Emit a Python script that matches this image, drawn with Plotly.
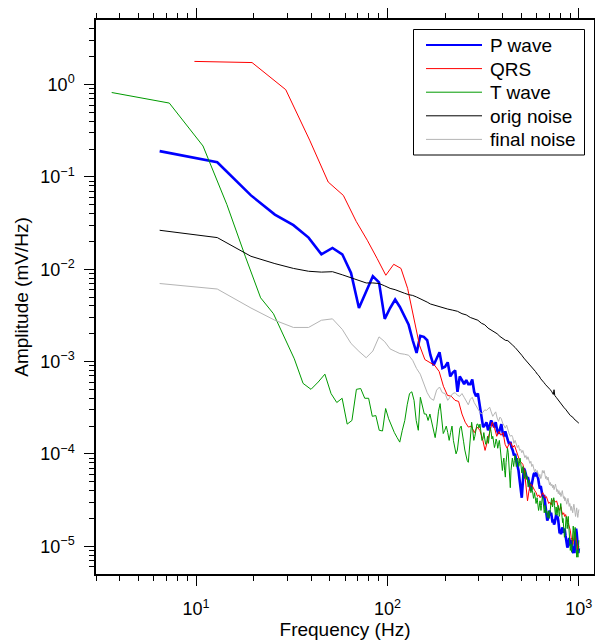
import numpy as np
import plotly.graph_objects as go

# ---- frequency bins (FFT bins, fs = 2000 Hz) ----
df_p = 2000 / 310      # P wave / noise window
df_qrs = 2000 / 204    # QRS window
df_t = 2000 / 552      # T wave window
freq_p = df_p * np.arange(1, 156)
freq_qrs = df_qrs * np.arange(1, 103)
freq_t = df_t * np.arange(1, 277)

# ---- amplitudes (mV/Hz) ----
p_wave = [
    0.19, 0.144, 0.063, 0.039, 0.030, 0.022, 0.0145, 0.017, 0.0145, 0.0091,
    0.0038, 0.0058, 0.0084, 0.0072, 0.0029, 0.0038, 0.0047, 0.0039, 0.0031, 0.0025,
    0.0017, 0.00124, 0.0019, 0.00185, 0.0017, 0.00117, 9.1e-4, 1.1e-3, 1.26e-3, 8.5e-4,
    8.8e-4, 9.8e-4, 6.9e-4, 7.6e-4, 8.0e-4, 4.7e-4, 6.9e-4, 6.3e-4, 5.7e-4, 6.3e-4,
    5.7e-4, 5.7e-4, 6.4e-4, 4.7e-4, 4.2e-4, 4.5e-4, 3.35e-4, 2.5e-4, 1.95e-4, 2.04e-4,
    2.2e-4, 1.8e-4, 2.0e-4, 2.3e-4, 2.1e-4, 1.95e-4, 2.2e-4, 1.8e-4, 1.65e-4, 1.9e-4,
    2.1e-4, 1.7e-4, 1.55e-4, 1.75e-4, 1.52e-4, 1.4e-4, 1.28e-4, 1.35e-4, 1.17e-4, 1.09e-4,
    9.6e-5, 1.0e-4, 8.5e-5, 7.7e-5, 6.6e-5, 5.2e-5, 3.8e-5, 3.35e-5, 4.9e-5, 7.0e-5,
    6.6e-5, 6.0e-5, 5.4e-5, 5.6e-5, 4.9e-5, 4.4e-5, 4.0e-5, 4.7e-5, 5.4e-5, 6.0e-5,
    6.2e-5, 5.7e-5, 6.3e-5, 5.9e-5, 5.4e-5, 4.7e-5, 4.2e-5, 4.5e-5, 3.8e-5, 3.55e-5,
    3.35e-5, 3.6e-5, 3.1e-5, 2.6e-5, 2.16e-5, 1.9e-5, 2.0e-5, 2.3e-5, 2.44e-5, 2.16e-5,
    2.3e-5, 2.05e-5, 1.8e-5, 1.95e-5, 1.72e-5, 1.8e-5, 2.1e-5, 2.2e-5, 2.0e-5, 2.1e-5,
    1.9e-5, 1.6e-5, 1.38e-5, 1.49e-5, 1.35e-5, 1.45e-5, 1.6e-5, 1.49e-5, 1.4e-5, 1.55e-5,
    1.49e-5, 1.31e-5, 1.16e-5, 1.05e-5, 9.7e-6, 1.0e-5, 1.16e-5, 1.23e-5, 1.1e-5, 1.02e-5,
    1.07e-5, 1.16e-5, 1.02e-5, 9.0e-6, 8.4e-6, 9.5e-6, 8.4e-6, 1.0e-5, 1.31e-5, 1.55e-5,
    1.4e-5, 1.1e-5, 9.0e-6, 8.4e-6, 9.5e-6,
]

qrs = [
    1.78, 1.73, 0.88, 0.25, 0.088, 0.063, 0.033, 0.0206, 0.0131, 0.0086,
    0.0113, 0.0102, 0.0062, 0.0029, 0.0015, 1.05e-3, 9.8e-4, 9.1e-4, 7.8e-4, 5.4e-4,
    4.3e-4, 4.2e-4, 3.8e-4, 3.7e-4, 2.7e-4, 2.2e-4, 1.95e-4, 2.0e-4, 1.7e-4, 1.95e-4,
    1.8e-4, 1.46e-4, 1.09e-4, 1.4e-4, 1.8e-4, 2.2e-4, 1.9e-4, 1.55e-4, 1.75e-4, 1.59e-4,
    1.7e-4, 1.27e-4, 1.15e-4, 1.27e-4, 1.32e-4, 1.17e-4, 1.24e-4, 1.09e-4, 9.6e-5, 8.5e-5,
    8.1e-5, 7.7e-5, 6.6e-5, 4.6e-5, 3.1e-5, 4.0e-5, 4.7e-5, 4.6e-5, 4.2e-5, 4.0e-5,
    3.8e-5, 3.45e-5, 3.6e-5, 3.35e-5, 3.55e-5, 3.8e-5, 3.6e-5, 3.35e-5, 3.45e-5, 3.1e-5,
    2.9e-5, 3.0e-5, 2.8e-5, 3.05e-5, 3.2e-5, 3.1e-5, 3.0e-5, 3.1e-5, 2.77e-5, 2.6e-5,
    2.44e-5, 2.7e-5, 2.4e-5, 2.2e-5, 2.3e-5, 2.1e-5, 2.2e-5, 2.05e-5, 1.85e-5, 1.72e-5,
    1.6e-5, 1.49e-5, 1.25e-5, 1.13e-5, 1.05e-5, 1.23e-5, 1.4e-5, 1.28e-5, 1.1e-5, 1.0e-5,
    9.2e-6, 1.0e-5,
]

t_wave = [
    0.82, 0.63, 0.216, 0.050, 0.0136, 0.0049, 0.0033, 0.0018, 0.00107, 5.8e-4,
    5.0e-4, 6.0e-4, 7.3e-4, 4.5e-4, 3.6e-4, 4.0e-4, 2.1e-4, 2.3e-4, 5.0e-4, 5.1e-4,
    4.0e-4, 4.0e-4, 2.55e-4, 2.6e-4, 1.8e-4, 1.77e-4, 3.1e-4, 2.4e-4, 2.0e-4, 1.7e-4,
    1.5e-4, 1.34e-4, 1.8e-4, 2.3e-4, 3.4e-4, 4.5e-4, 4.7e-4, 3.8e-4, 2.3e-4, 1.8e-4,
    4.1e-4, 3.4e-4, 2.7e-4, 2.7e-4, 2.3e-4, 2.7e-4, 2.2e-4, 1.8e-4, 1.5e-4, 2.0e-4,
    2.9e-4, 3.5e-4, 2.3e-4, 1.66e-4, 1.8e-4, 2.0e-4, 1.7e-4, 1.4e-4, 1.7e-4, 2.0e-4,
    1.4e-4, 1.2e-4, 1.0e-4, 1.1e-4, 1.4e-4, 1.9e-4, 2.0e-4, 1.7e-4, 1.35e-4, 1.1e-4,
    9.6e-5, 8.5e-5, 8.1e-5, 1.24e-4, 1.9e-4, 2.2e-4, 1.8e-4, 1.4e-4, 1.55e-4, 1.9e-4,
    2.1e-4, 2.1e-4, 1.9e-4, 2.1e-4, 1.65e-4, 1.4e-4, 1.45e-4, 1.7e-4, 1.45e-4, 1.27e-4,
    1.32e-4, 1.55e-4, 1.3e-4, 1.6e-4, 1.95e-4, 1.75e-4, 1.45e-4, 1.55e-4, 1.32e-4, 1.17e-4,
    1.27e-4, 1.45e-4, 1.35e-4, 1.15e-4, 1.27e-4, 1.4e-4, 1.2e-4, 9.6e-5, 7.5e-5, 6.6e-5,
    8.1e-5, 9.0e-5, 6.6e-5, 5.6e-5, 8.1e-5, 1.03e-4, 1.15e-4, 1.03e-4, 6.6e-5, 4.6e-5,
    4.3e-5, 6.6e-5, 8.5e-5, 9.0e-5, 8.1e-5, 7.3e-5, 8.5e-5, 9.6e-5, 9.0e-5, 7.3e-5,
    8.1e-5, 9.0e-5, 8.5e-5, 7.3e-5, 7.9e-5, 9.0e-5, 8.1e-5, 7.0e-5, 6.2e-5, 7.0e-5,
    7.3e-5, 6.2e-5, 5.4e-5, 5.7e-5, 6.6e-5, 6.0e-5, 5.3e-5, 5.7e-5, 5.2e-5, 4.4e-5,
    4.7e-5, 5.2e-5, 4.8e-5, 4.3e-5, 3.8e-5, 4.0e-5, 4.4e-5, 4.0e-5, 3.55e-5, 3.3e-5,
    3.45e-5, 3.8e-5, 3.45e-5, 3.1e-5, 2.9e-5, 3.1e-5, 3.35e-5, 3.0e-5, 2.7e-5, 2.44e-5,
    2.6e-5, 2.9e-5, 3.1e-5, 2.77e-5, 2.44e-5, 2.77e-5, 3.2e-5, 3.45e-5, 3.3e-5, 2.8e-5,
    2.5e-5, 2.3e-5, 2.5e-5, 2.77e-5, 2.6e-5, 2.3e-5, 2.44e-5, 2.2e-5, 2.05e-5, 2.16e-5,
    2.4e-5, 2.2e-5, 2.0e-5, 2.16e-5, 2.3e-5, 2.6e-5, 2.8e-5, 3.1e-5, 3.3e-5, 3.0e-5,
    2.66e-5, 2.77e-5, 3.1e-5, 3.35e-5, 3.2e-5, 2.77e-5, 2.44e-5, 2.2e-5, 2.3e-5, 2.66e-5,
    2.44e-5, 2.16e-5, 2.25e-5, 2.6e-5, 2.77e-5, 2.6e-5, 2.3e-5, 2.1e-5, 2.2e-5, 2.5e-5,
    2.7e-5, 2.9e-5, 2.7e-5, 2.4e-5, 2.1e-5, 1.9e-5, 1.8e-5, 2.0e-5, 1.72e-5, 1.49e-5,
    1.35e-5, 1.25e-5, 1.31e-5, 1.55e-5, 1.8e-5, 2.0e-5, 2.1e-5, 1.95e-5, 1.72e-5, 1.55e-5,
    1.72e-5, 2.0e-5, 2.1e-5, 1.8e-5, 1.49e-5, 1.25e-5, 1.1e-5, 1.0e-5, 9.0e-6, 9.5e-6,
    1.05e-5, 9.2e-6, 8.6e-6, 9.5e-6, 1.13e-5, 1.35e-5, 1.55e-5, 1.65e-5, 1.49e-5, 1.28e-5,
    1.16e-5, 1.28e-5, 1.49e-5, 1.6e-5, 1.4e-5, 1.16e-5, 9.7e-6, 8.4e-6, 7.6e-6, 8.2e-6,
    9.0e-6, 8.2e-6, 7.6e-6, 8.6e-6, 1.05e-5, 1.16e-5,
]

# original noise: bin indices (on the P-wave grid) and amplitudes
orig_noise_bins = (list(range(1, 31)) + list(range(32, 115, 2)) + [115]
                   + list(range(116, 155, 2)) + [155])
orig_noise = [
    0.0264, 0.022, 0.0138, 0.0115, 0.0102, 0.0095, 0.0093, 0.0094, 0.0087, 0.0081,
    0.0076, 0.0071, 0.0071, 0.0070, 0.0066, 0.0062, 0.0060, 0.0057, 0.0055, 0.0053,
    0.0052, 0.0050, 0.0048, 0.0046, 0.0044, 0.0042, 0.0041, 0.0040, 0.00395, 0.0038,
    0.0037, 0.0036, 0.0035, 0.0033, 0.0032, 0.0030, 0.0029, 0.0028, 0.0026, 0.0025,
    0.0023, 0.0022, 0.0021, 0.0020, 0.00187, 0.00177, 0.0017, 0.00168, 0.0016, 0.0015,
    0.00142, 0.00134, 0.00126, 0.00117, 0.00109, 0.00103, 9.8e-4, 9.3e-4, 8.7e-4, 8.3e-4,
    7.8e-4, 7.3e-4, 7.0e-4, 6.5e-4, 6.25e-4, 5.9e-4, 5.6e-4, 5.4e-4, 5.1e-4, 4.95e-4,
    4.7e-4, 4.4e-4, 4.95e-4, 4.3e-4, 4.1e-4, 3.9e-4, 3.7e-4, 3.55e-4, 3.4e-4, 3.3e-4,
    3.15e-4, 3.05e-4, 2.95e-4, 2.8e-4, 2.7e-4, 2.6e-4, 2.55e-4, 2.5e-4, 2.4e-4, 2.35e-4,
    2.3e-4, 2.25e-4, 2.2e-4, 2.15e-4,
]

final_noise = [
    0.0070, 0.0061, 0.0038, 0.0028, 0.00234, 0.00234, 0.0028, 0.0029, 0.00223, 0.00157,
    0.00129, 0.0011, 0.0013, 0.00185, 0.00164, 0.00137, 0.00129, 0.00122, 0.0012, 0.00117,
    0.00103, 8.4e-4, 7.3e-4, 5.7e-4, 4.6e-4, 4.0e-4, 3.8e-4, 4.9e-4, 5.3e-4, 4.6e-4,
    4.5e-4, 3.8e-4, 4.2e-4, 4.5e-4, 4.6e-4, 4.3e-4, 4.2e-4, 4.5e-4, 4.1e-4, 3.7e-4,
    3.4e-4, 3.9e-4, 4.1e-4, 3.6e-4, 3.3e-4, 3.0e-4, 2.85e-4, 2.7e-4, 2.9e-4, 3.0e-4,
    2.95e-4, 3.1e-4, 3.2e-4, 2.85e-4, 2.55e-4, 2.7e-4, 2.85e-4, 2.45e-4, 2.25e-4, 2.5e-4,
    2.4e-4, 2.15e-4, 2.0e-4, 1.9e-4, 2.05e-4, 1.8e-4, 1.65e-4, 1.55e-4, 1.6e-4, 1.5e-4,
    1.3e-4, 1.4e-4, 1.27e-4, 1.17e-4, 1.24e-4, 1.09e-4, 1.12e-4, 1.03e-4, 1.09e-4, 9.8e-5,
    9.1e-5, 9.6e-5, 8.7e-5, 9.3e-5, 8.5e-5, 7.9e-5, 8.3e-5, 7.3e-5, 7.7e-5, 7.0e-5,
    6.4e-5, 6.8e-5, 6.3e-5, 6.6e-5, 6.0e-5, 5.6e-5, 6.0e-5, 5.4e-5, 5.7e-5, 6.6e-5,
    6.2e-5, 6.6e-5, 6.0e-5, 5.4e-5, 5.7e-5, 5.2e-5, 5.6e-5, 4.9e-5, 4.6e-5, 4.9e-5,
    4.5e-5, 4.7e-5, 4.3e-5, 4.6e-5, 4.1e-5, 4.4e-5, 4.7e-5, 4.3e-5, 3.9e-5, 4.1e-5,
    3.7e-5, 4.0e-5, 3.6e-5, 3.8e-5, 3.45e-5, 3.7e-5, 4.0e-5, 3.6e-5, 3.3e-5, 3.45e-5,
    3.1e-5, 3.35e-5, 3.05e-5, 2.85e-5, 3.05e-5, 3.3e-5, 3.0e-5, 2.7e-5, 2.9e-5, 2.66e-5,
    2.44e-5, 2.7e-5, 2.5e-5, 2.3e-5, 2.6e-5, 2.85e-5, 2.6e-5, 2.25e-5, 2.1e-5, 2.3e-5,
    2.6e-5, 2.3e-5, 2.05e-5, 2.25e-5, 2.5e-5,
]

series_names = ["P wave", "QRS", "T wave", "orig noise", "final noise"]
series_colors = ["#0000FF", "#FF0000", "#009A00", "#000000", "#B4B4B4"]
series_widths = [2.6, 1, 1, 1, 1]

# ---- tick labels ----
x_tickvals = [10, 100, 1000]
x_ticktext = ["10<sup>1</sup>", "10<sup>2</sup>", "10<sup>3</sup>"]
y_tickvals = [1e-5, 1e-4, 1e-3, 1e-2, 1e-1, 1]
y_ticktext = ["10<sup>\u22125</sup>", "10<sup>\u22124</sup>", "10<sup>\u22123</sup>",
              "10<sup>\u22122</sup>", "10<sup>\u22121</sup>", "10<sup>0</sup>"]
x_minor = [3, 4, 5, 6, 7, 8, 9, 20, 30, 40, 50, 60, 70, 80, 90,
           200, 300, 400, 500, 600, 700, 800, 900]
y_minor = ([6e-6, 7e-6, 8e-6, 9e-6]
           + [m * 10.0 ** e for e in range(-5, 0) for m in range(2, 10)]
           + [2, 3, 4])

orig_freq = [df_p * k for k in orig_noise_bins]

xs = [freq_p, freq_qrs, freq_t, orig_freq, freq_p]
ys = [p_wave, qrs, t_wave, orig_noise, final_noise]

fig = go.Figure()
for name, xv, yv, col, w in zip(series_names, xs, ys, series_colors, series_widths):
    fig.add_trace(go.Scatter(x=xv, y=yv, mode="lines", name=name,
                             line=dict(color=col, width=w), showlegend=False))

axis_common = dict(
    type="log", showgrid=False, zeroline=False, automargin=False,
    showline=True, linecolor="black", linewidth=1.5, mirror="ticks",
    ticks="outside", ticklen=10, tickwidth=1, tickcolor="black",
    tickfont=dict(size=18, color="black"),
)

fig.update_xaxes(
    **axis_common,
    range=[np.log10(3), np.log10(1200)],
    tickmode="array", tickvals=x_tickvals, ticktext=x_ticktext,
    ticklabelstandoff=8,
    minor=dict(tickvals=x_minor, ticks="outside", ticklen=5, tickwidth=1,
               tickcolor="black", showgrid=False),
    title=dict(text="Frequency (Hz)", font=dict(size=19, color="black"), standoff=4),
)
fig.update_yaxes(
    **axis_common,
    range=[np.log10(5e-6), np.log10(5)],
    tickmode="array", tickvals=y_tickvals, ticktext=y_ticktext,
    ticklabelstandoff=6,
    minor=dict(tickvals=y_minor, ticks="outside", ticklen=5, tickwidth=1,
               tickcolor="black", showgrid=False),
    title=dict(text="Amplitude (mV/Hz)", font=dict(size=19, color="black"), standoff=7),
)

# ---- legend box (drawn in paper coordinates) ----
L, R, T, B = 96, 1, 20, 69
W, H = 595 - L - R, 643 - T - B
def px(x):
    return (x - L) / W
def py(y):
    return (643 - B - y) / H

shapes = [dict(type="rect", xref="paper", yref="paper",
               x0=px(413.5), x1=px(584.5), y0=py(155), y1=py(29.5),
               line=dict(color="black", width=1), fillcolor="white", layer="above")]
annotations = []
row_y = [45, 68.6, 92.2, 115.8, 139.4]
for name, col, w, ry in zip(series_names, series_colors, series_widths, row_y):
    shapes.append(dict(type="line", xref="paper", yref="paper",
                       x0=px(426), x1=px(482), y0=py(ry), y1=py(ry),
                       line=dict(color=col, width=min(w, 2)), layer="above"))
    annotations.append(dict(xref="paper", yref="paper", x=px(488), y=py(ry + 0.5),
                            text=name, showarrow=False, xanchor="left", yanchor="middle",
                            font=dict(size=19, color="black")))

fig.update_layout(
    width=595, height=643,
    margin=dict(l=L, r=R, t=T, b=B),
    paper_bgcolor="white", plot_bgcolor="white",
    font=dict(family="Liberation Sans, Arial, Helvetica, sans-serif", size=19, color="black"),
    showlegend=False,
    shapes=shapes,
    annotations=annotations,
)

fig.write_html("out.html",
               config={"displayModeBar": False},
               post_script="document.body.style.margin='0px';"
                           "document.body.style.overflow='hidden';")
